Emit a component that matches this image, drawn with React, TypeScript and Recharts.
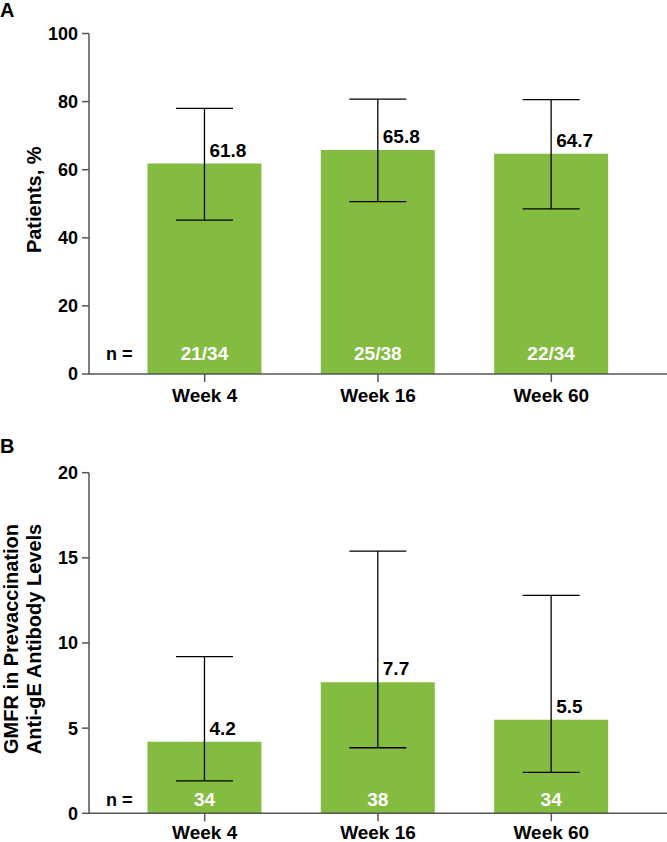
import React from 'react';
import { BarChart, Bar, XAxis, YAxis, ErrorBar, LabelList } from 'recharts';

const FONT = '"Liberation Sans", Arial, Helvetica, sans-serif';
const GREEN = '#84bc41';
const AXIS = '#555555';

const weeks = ['Week 4', 'Week 16', 'Week 60'];

const pctValues = [61.8, 65.8, 64.7];
const pctLower = [45.2, 50.6, 48.5];
const pctUpper = [78.0, 80.7, 80.6];
const pctN = ['21/34', '25/38', '22/34'];
const pctTicks = [0, 20, 40, 60, 80, 100];

const gmfrValues = [4.2, 7.7, 5.5];
const gmfrLower = [1.9, 3.85, 2.4];
const gmfrUpper = [9.2, 15.4, 12.8];
const gmfrN = ['34', '38', '34'];
const gmfrTicks = [0, 5, 10, 15, 20];

function buildData(values: number[], lower: number[], upper: number[], n: string[]) {
  return weeks.map((w, i) => ({
    week: w,
    value: values[i],
    err: [values[i] - lower[i], upper[i] - values[i]],
    n: n[i],
  }));
}

const pctData = buildData(pctValues, pctLower, pctUpper, pctN);
const gmfrData = buildData(gmfrValues, gmfrLower, gmfrUpper, gmfrN);

const ValueLabel = (props: any) => {
  const { x, y, width, value } = props;
  return (
    <text
      x={Number(x) + Number(width) / 2 + 5}
      y={Number(y) - 7}
      textAnchor="start"
      fill="#000"
      fontSize={19}
      fontWeight={700}
      fontFamily={FONT}
    >
      {value}
    </text>
  );
};

const makeNLabel = (bottomOffset: number) => (props: any) => {
  const { x, y, width, height, value, index } = props;
  const bottom = Number(y) + Number(height);
  return (
    <g>
      <text
        x={Number(x) + Number(width) / 2}
        y={bottom - bottomOffset}
        textAnchor="middle"
        fill="#fff"
        fontSize={19}
        fontWeight={700}
        fontFamily={FONT}
      >
        {value}
      </text>
      {index === 0 && (
        <text
          x={Number(x) - 15}
          y={bottom - bottomOffset}
          textAnchor="end"
          fill="#000"
          fontSize={18}
          fontWeight={700}
          fontFamily={FONT}
        >
          n =
        </text>
      )}
    </g>
  );
};

const YLabel = (props: any) => {
  const { viewBox, lines, xs, letter, letterY } = props;
  const cy = viewBox ? viewBox.y + viewBox.height / 2 - 4 : 200;
  return (
    <g>
      <text x={0} y={letterY} fill="#000" fontSize={20} fontWeight={700} fontFamily={FONT}>
        {letter}
      </text>
      {lines.map((l: string, i: number) => (
        <text
          key={i}
          x={xs[i]}
          y={cy}
          transform={`rotate(-90, ${xs[i]}, ${cy})`}
          textAnchor="middle"
          fill="#000"
          fontSize={20}
          fontWeight={700}
          fontFamily={FONT}
        >
          {l}
        </text>
      ))}
    </g>
  );
};

type PanelProps = {
  data: any[];
  ticks: number[];
  domain: [number, number];
  top: number;
  xHeight: number;
  xTickMargin: number;
  nOffset: number;
  lines: string[];
  xs: number[];
  letter: string;
  letterY: number;
};

const Panel = ({ data, ticks, domain, top, xHeight, xTickMargin, nOffset, lines, xs, letter, letterY }: PanelProps) => (
  <BarChart
    width={667}
    height={421}
    data={data}
    margin={{ top, right: 0, left: 0, bottom: 0 }}
    barCategoryGap="17%"
  >
    <XAxis
      dataKey="week"
      padding={{ left: 29, right: 29 }}
      height={xHeight}
      tickSize={8}
      tickMargin={xTickMargin}
      interval={0}
      axisLine={{ stroke: AXIS, strokeWidth: 1.5 }}
      tickLine={{ stroke: AXIS, strokeWidth: 1.5 }}
      tick={{ fill: '#000', fontSize: 19, fontWeight: 700, fontFamily: FONT }}
    />
    <YAxis
      type="number"
      domain={domain}
      ticks={ticks}
      interval={0}
      width={89}
      tickSize={7}
      tickMargin={4}
      axisLine={{ stroke: AXIS, strokeWidth: 1.5 }}
      tickLine={{ stroke: AXIS, strokeWidth: 1.5 }}
      tick={{ fill: '#000', fontSize: 18, fontWeight: 700, fontFamily: FONT }}
      label={<YLabel lines={lines} xs={xs} letter={letter} letterY={letterY} />}
    />
    <Bar dataKey="value" fill={GREEN} isAnimationActive={false}>
      <ErrorBar
        dataKey="err"
        width={28.5}
        stroke="#000"
        strokeWidth={1.3}
        direction="y"
        isAnimationActive={false}
      />
      <LabelList dataKey="value" content={ValueLabel} />
      <LabelList dataKey="n" content={makeNLabel(nOffset)} />
    </Bar>
  </BarChart>
);

export default function App() {
  return (
    <div style={{ position: 'absolute', left: 0, top: 0, width: 667, height: 842, background: '#fff' }}>
      <Panel
        data={pctData}
        ticks={pctTicks}
        domain={[0, 100]}
        top={33.5}
        xHeight={47}
        xTickMargin={7}
        nOffset={14}
        lines={['Patients, %']}
        xs={[41]}
        letter="A"
        letterY={17}
      />
      <Panel
        data={gmfrData}
        ticks={gmfrTicks}
        domain={[0, 20]}
        top={51.7}
        xHeight={28.7}
        xTickMargin={4}
        nOffset={7}
        lines={['GMFR in Prevaccination', 'Anti-gE Antibody Levels']}
        xs={[17.6, 41]}
        letter="B"
        letterY={32}
      />
    </div>
  );
}
